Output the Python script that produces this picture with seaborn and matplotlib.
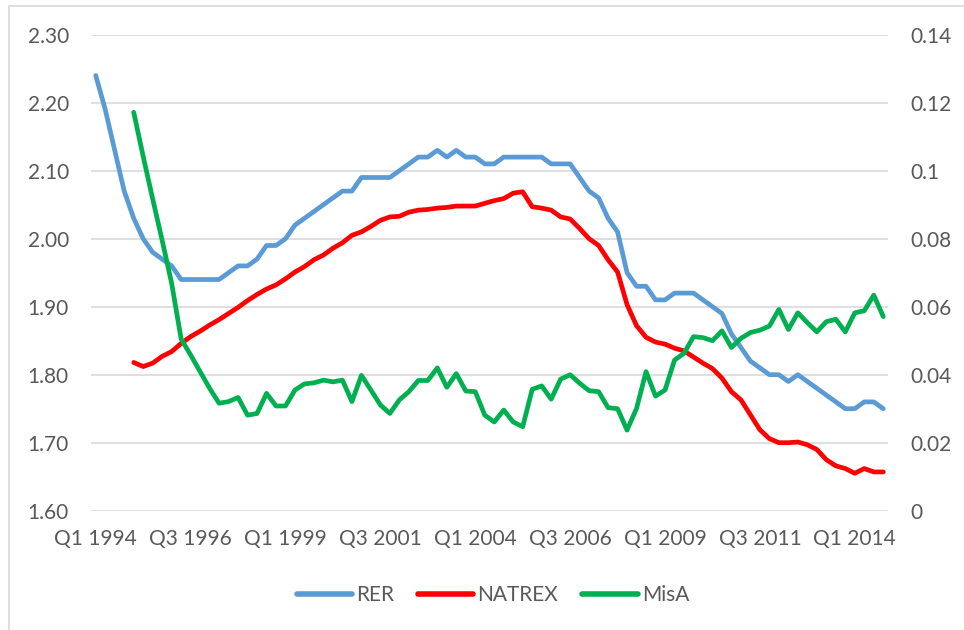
import numpy as np
import pandas as pd
import matplotlib
matplotlib.use("Agg")
import matplotlib.pyplot as plt
from matplotlib.lines import Line2D
from matplotlib.patches import Rectangle
import seaborn as sns

# quarterly series, Q1 1994 .. Q4 2014
years = list(range(1994, 2015))
quarters = [f"Q{q} {y}" for y in years for q in range(1, 5)]

rer = [2.24, 2.19, 2.13, 2.07, 2.03, 2.00, 1.98, 1.97, 1.96, 1.94,
       1.94, 1.94, 1.94, 1.94, 1.95, 1.96, 1.96, 1.97, 1.99, 1.99,
       2.00, 2.02, 2.03, 2.04, 2.05, 2.06, 2.07, 2.07, 2.09, 2.09,
       2.09, 2.09, 2.10, 2.11, 2.12, 2.12, 2.13, 2.12, 2.13, 2.12,
       2.12, 2.11, 2.11, 2.12, 2.12, 2.12, 2.12, 2.12, 2.11, 2.11,
       2.11, 2.09, 2.07, 2.06, 2.03, 2.01, 1.95, 1.93, 1.93, 1.91,
       1.91, 1.92, 1.92, 1.92, 1.91, 1.90, 1.89, 1.86, 1.84, 1.82,
       1.81, 1.80, 1.80, 1.79, 1.80, 1.79, 1.78, 1.77, 1.76, 1.75,
       1.75, 1.76, 1.76, 1.75]

natrex = [None, None, None, None,
          1.818, 1.812, 1.817, 1.827, 1.834, 1.846,
          1.856, 1.864, 1.873, 1.881, 1.890, 1.899, 1.909, 1.918, 1.926, 1.932,
          1.941, 1.951, 1.959, 1.969, 1.976, 1.986, 1.994, 2.005, 2.010, 2.018,
          2.027, 2.032, 2.033, 2.039, 2.042, 2.043, 2.045, 2.046, 2.048, 2.048,
          2.048, 2.052, 2.056, 2.059, 2.067, 2.069, 2.047, 2.045, 2.042, 2.032,
          2.029, 2.015, 2.000, 1.990, 1.969, 1.951, 1.903, 1.872, 1.855, 1.848,
          1.845, 1.839, 1.835, 1.826, 1.817, 1.809, 1.795, 1.775, 1.763, 1.741,
          1.719, 1.706, 1.700, 1.700, 1.701, 1.697, 1.690, 1.675, 1.666, 1.662,
          1.655, 1.662, 1.657, 1.657]

misa = [None, None, None, None,
        0.1172, 0.1042, 0.0917, 0.0795, 0.0669, 0.0505,
        0.0458, 0.0409, 0.0360, 0.0316, 0.0321, 0.0333, 0.0281, 0.0286, 0.0345, 0.0308,
        0.0308, 0.0355, 0.0373, 0.0376, 0.0384, 0.0379, 0.0384, 0.0321, 0.0398, 0.0355,
        0.0311, 0.0286, 0.0326, 0.0350, 0.0383, 0.0383, 0.0420, 0.0363, 0.0403, 0.0352,
        0.0350, 0.0281, 0.0261, 0.0296, 0.0261, 0.0247, 0.0357, 0.0367, 0.0328, 0.0387,
        0.0400, 0.0375, 0.0353, 0.0350, 0.0303, 0.0300, 0.0237, 0.0301, 0.0409, 0.0337,
        0.0355, 0.0443, 0.0463, 0.0512, 0.0509, 0.0500, 0.0529, 0.0480, 0.0507, 0.0524,
        0.0531, 0.0543, 0.0592, 0.0533, 0.0582, 0.0553, 0.0526, 0.0556, 0.0563, 0.0526,
        0.0582, 0.0588, 0.0634, 0.0571]

left_ticks = [1.60, 1.70, 1.80, 1.90, 2.00, 2.10, 2.20, 2.30]
right_ticks = [0, 0.02, 0.04, 0.06, 0.08, 0.10, 0.12, 0.14]
right_labels = ["0", "0.02", "0.04", "0.06", "0.08", "0.1", "0.12", "0.14"]

colors = {"RER": "#5B9BD5", "NATREX": "#FF0000", "MisA": "#00B050"}
text_col = "#595959"
grid_col = "#D9D9D9"

sns.set_style("white")
plt.rcParams["font.family"] = ["Lato", "DejaVu Sans"]
fs = 15

df = pd.DataFrame({"pos": np.arange(len(quarters)), "quarter": quarters,
                   "RER": rer, "NATREX": natrex, "MisA": misa}).astype(
    {"RER": float, "NATREX": float, "MisA": float})

fig = plt.figure(figsize=(9.64, 6.30), dpi=100)
ax = fig.add_axes([91 / 964, 1 - 510.7 / 630, (888 - 91) / 964, (510.7 - 34.7) / 630])
ax2 = ax.twinx()

lw = 3.4
line_kw = dict(solid_joinstyle="round", solid_capstyle="round")
sns.lineplot(data=df, x="pos", y="RER", ax=ax, color=colors["RER"], lw=lw, **line_kw)
sns.lineplot(data=df, x="pos", y="NATREX", ax=ax, color=colors["NATREX"], lw=lw, **line_kw)
sns.lineplot(data=df, x="pos", y="MisA", ax=ax2, color=colors["MisA"], lw=lw, **line_kw)

ax.set_xlim(-0.5, len(quarters) - 0.5)
ax.set_ylim(1.60, 2.30)
ax2.set_ylim(0, 0.14)

ax.set_yticks(left_ticks)
ax.set_yticklabels([f"{v:.2f}" for v in left_ticks])
ax2.set_yticks(right_ticks)
ax2.set_yticklabels(right_labels)
ax.set_xticks(df["pos"][::10])
ax.set_xticklabels(df["quarter"][::10])

ax.grid(axis="y", color=grid_col, lw=1.2)
ax.set_axisbelow(True)
ax2.grid(False)
for a in (ax, ax2):
    for s in a.spines.values():
        s.set_visible(False)
    a.set_xlabel("")
    a.set_ylabel("")
    a.tick_params(length=0, labelsize=fs, labelcolor=text_col)
ax.tick_params(axis="y", pad=16)
ax2.tick_params(axis="y", pad=16)
ax.tick_params(axis="x", pad=13)

handles = [Line2D([], [], color=colors[k], lw=4, solid_capstyle="round") for k in colors]
fig.legend(handles, list(colors), loc="center", bbox_to_anchor=(493 / 964, 1 - 595 / 630),
           ncol=3, frameon=False, fontsize=fs, labelcolor=text_col,
           handlelength=2.65, handletextpad=0.2, columnspacing=1.15)

# chart-area border (only top and left edges are inside the crop)
fig.patches.append(Rectangle((9 / 964, -0.1), 1.2, 1 - 6 / 630 + 0.1, transform=fig.transFigure,
                             fill=False, edgecolor=grid_col, lw=1.2))

fig.savefig("out.png", dpi=100)
